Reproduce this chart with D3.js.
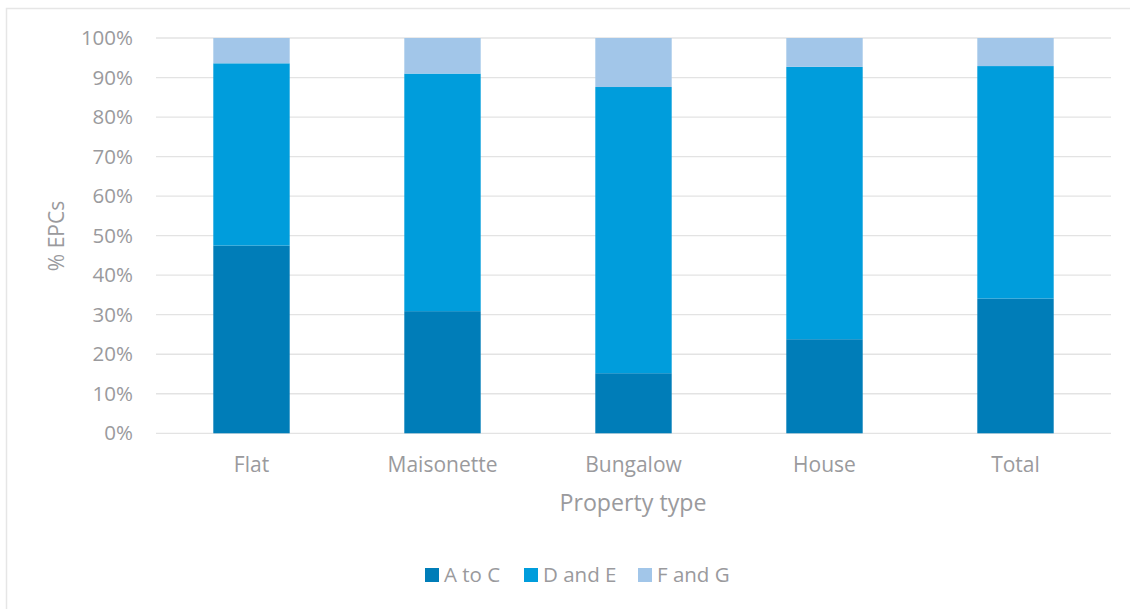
<!DOCTYPE html>
<html>
<head>
<meta charset="utf-8">
<script src="https://cdn.jsdelivr.net/npm/d3@7"></script>
<style>
  html, body { margin: 0; padding: 0; background: #fff; }
  svg { display: block; }
  text { font-family: "Open Sans", "Noto Sans", sans-serif; fill: #9a9a9d; }
</style>
</head>
<body>
<svg id="chart" width="1130" height="609"></svg>
<script>
// Share of EPCs by rating band for each property type (percent)
const categories = ["Flat", "Maisonette", "Bungalow", "House", "Total"];
const seriesNames = ["A to C", "D and E", "F and G"];
const aToC    = [47.5, 30.9, 15.2, 23.8, 34.1];
const dAndE   = [46.1, 60.1, 72.4, 68.9, 58.8];
const fAndG   = [6.4, 9.0, 12.4, 7.3, 7.1];
const yTicks  = [0, 10, 20, 30, 40, 50, 60, 70, 80, 90, 100];
const colors  = ["#007db8", "#009ddc", "#a2c6e9"];

const svg = d3.select("#chart");

// outer chart frame
svg.append("rect")
  .attr("x", 6.5).attr("y", 8.5)
  .attr("width", 1140).attr("height", 620)
  .attr("fill", "none").attr("stroke", "#e6e6e6").attr("stroke-width", 1.5);

const plot = { left: 156, right: 1111, top: 38, bottom: 433.3 };

const x = d3.scaleBand()
  .domain(categories)
  .range([plot.left, plot.right])
  .paddingInner(0.6)
  .paddingOuter(0.3);

const y = d3.scaleLinear().domain([0, 100]).range([plot.bottom, plot.top]);

// gridlines
svg.append("g")
  .selectAll("line")
  .data(yTicks)
  .join("line")
  .attr("x1", plot.left).attr("x2", plot.right)
  .attr("y1", d => y(d)).attr("y2", d => y(d))
  .attr("stroke", "#e3e3e3").attr("stroke-width", 1.3);

// y axis labels
const yAxis = d3.axisLeft(y).tickValues(yTicks).tickFormat(d => d + "%").tickSize(0).tickPadding(23);
const gy = svg.append("g").attr("transform", `translate(${plot.left},0)`).call(yAxis);
gy.select(".domain").remove();
gy.selectAll("text").style("font-size", "20.5px").attr("fill", "#9a9a9d")
  .style("font-family", "'Open Sans', sans-serif");

// stacked bars
const rows = categories.map((c, i) => ({ cat: c, "A to C": aToC[i], "D and E": dAndE[i], "F and G": fAndG[i] }));
const stack = d3.stack().keys(seriesNames)(rows);

svg.append("g")
  .selectAll("g")
  .data(stack)
  .join("g")
  .attr("fill", (d, i) => colors[i])
  .selectAll("rect")
  .data(d => d)
  .join("rect")
  .attr("x", d => x(d.data.cat))
  .attr("width", x.bandwidth())
  .attr("y", d => y(d[1]))
  .attr("height", d => y(d[0]) - y(d[1]));

// x axis labels
const xAxis = d3.axisBottom(x).tickSize(0).tickPadding(0);
const gx = svg.append("g").attr("transform", `translate(0,${plot.bottom})`).call(xAxis);
gx.select(".domain").remove();
gx.selectAll("text")
  .attr("y", 31).attr("dy", "0.35em")
  .style("font-size", "21px").attr("fill", "#9a9a9d")
  .style("font-family", "'Open Sans', sans-serif");

// axis titles
svg.append("text")
  .attr("x", (plot.left + plot.right) / 2 - 0.5).attr("y", 503)
  .attr("dy", "0.35em").attr("text-anchor", "middle")
  .style("font-size", "23.2px")
  .text("Property type");

svg.append("text")
  .attr("transform", "translate(57,236) rotate(-90)")
  .attr("dy", "0.35em").attr("text-anchor", "middle")
  .style("font-size", "21px")
  .text("% EPCs");

// legend
const legendItems = [
  { name: seriesNames[0], x: 425 },
  { name: seriesNames[1], x: 524 },
  { name: seriesNames[2], x: 638 }
];
const lg = svg.append("g").selectAll("g").data(legendItems).join("g")
  .attr("transform", d => `translate(${d.x},575)`);
lg.append("rect").attr("x", 0).attr("y", -7).attr("width", 14).attr("height", 14)
  .attr("fill", (d, i) => colors[i]);
lg.append("text").attr("x", 19).attr("dy", "0.35em")
  .style("font-size", "20.5px")
  .text(d => d.name);
</script>
</body>
</html>
